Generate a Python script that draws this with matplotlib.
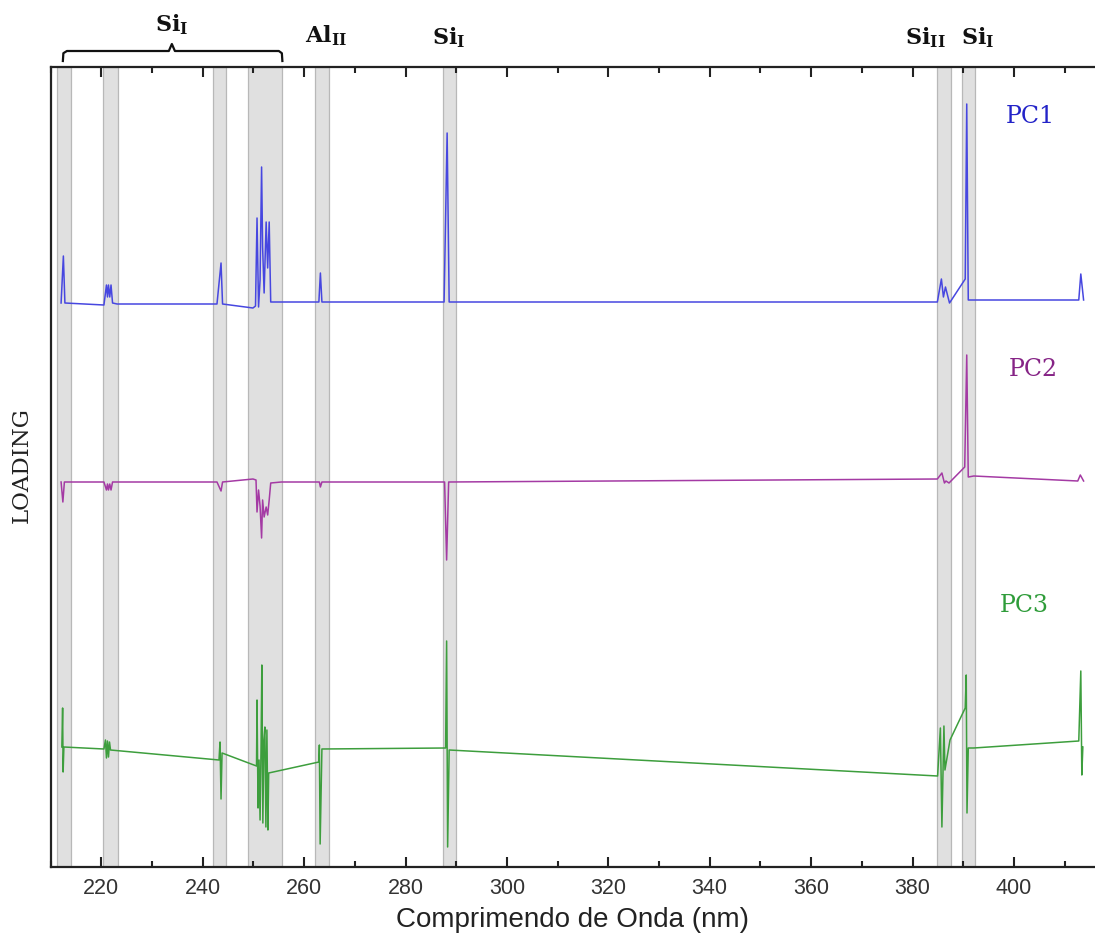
import matplotlib
matplotlib.use("Agg")
import matplotlib.pyplot as plt
from matplotlib.ticker import MultipleLocator
import numpy as np

# ---- data (wavelength in nm, loading in arbitrary units) ----
pc1_wl = [212.05, 212.5, 212.8, 220.5, 221.0, 221.2, 221.4, 221.65, 221.9, 222.2, 223.1,
          242.8, 243.6, 243.9, 249.9, 250.4, 250.7, 251.0, 251.3, 251.6, 251.8, 252.1,
          252.5, 252.8, 253.1, 253.4, 255.5, 262.9, 263.2, 263.5, 264.8, 287.6, 288.2,
          288.6, 289.9, 384.9, 385.7, 386.1, 386.5, 387.3, 390.4, 390.7, 391.0, 392.1,
          412.8, 413.2, 413.75]
pc1_val = [0.00, 0.47, 0.00, -0.02, 0.18, 0.06, 0.18, 0.06, 0.18, 0.00, -0.01,
           -0.01, 0.40, -0.01, -0.05, -0.03, 0.85, -0.04, 0.23, 1.36, 0.56, 0.10,
           0.81, 0.35, 0.81, 0.01, 0.01, 0.01, 0.30, 0.01, 0.01, 0.01, 1.70,
           0.01, 0.01, 0.01, 0.24, 0.06, 0.16, 0.00, 0.24, 1.99, 0.03, 0.03,
           0.03, 0.29, 0.03]

pc2_wl = [212.05, 212.4, 212.7, 220.5, 221.0, 221.2, 221.4, 221.65, 221.9, 222.2,
          242.8, 243.6, 243.9, 249.9, 250.5, 250.7, 251.0, 251.3, 251.6, 251.8, 252.1,
          252.5, 252.8, 253.1, 253.4, 255.5, 263.0, 263.2, 263.5, 287.7, 288.1, 288.5,
          384.9, 385.8, 386.3, 386.6, 387.2, 390.3, 390.7, 391.0, 392.1, 412.6, 413.1,
          413.75]
pc2_val = [0.00, -0.20, 0.00, 0.00, -0.08, -0.02, -0.08, -0.02, -0.08, 0.00,
           0.00, -0.09, 0.00, 0.03, 0.02, -0.30, -0.08, -0.24, -0.56, -0.18, -0.35,
           -0.25, -0.33, -0.18, -0.01, 0.00, 0.00, -0.05, 0.00, 0.00, -0.78, 0.00,
           0.03, 0.09, -0.01, 0.01, -0.01, 0.15, 1.27, 0.05, 0.06, 0.01, 0.07,
           0.01]

pc3_wl = [212.2, 212.35, 212.45, 212.6, 220.5, 220.8, 221.0, 221.2, 221.4, 221.6, 221.8,
          243.2, 243.4, 243.6, 243.8, 250.6, 250.7, 250.9, 251.1, 251.3, 251.5, 251.65,
          251.85, 252.05, 252.25, 252.45, 252.65, 252.85, 253.0, 262.9, 263.0, 263.15,
          263.5, 287.9, 288.1, 288.3, 288.6, 384.95, 385.5, 385.8, 386.2, 386.4, 387.4,
          390.4, 390.6, 390.75, 391.0, 392.05, 412.8, 413.2, 413.4, 413.6]
pc3_val = [0.03, 0.42, -0.22, 0.03, 0.01, 0.10, -0.08, 0.09, -0.07, 0.08, 0.00,
           -0.10, 0.08, -0.49, -0.03, -0.16, 0.50, -0.58, -0.10, -0.70, 0.05, 0.85,
           -0.73, 0.10, 0.23, -0.77, 0.20, -0.80, -0.23, -0.12, 0.05, -0.94,
           0.01, 0.02, 1.09, -0.97, 0.00, -0.26, 0.22, -0.77, 0.24, -0.20, 0.10,
           0.42, 0.75, -0.63, 0.02, 0.02, 0.09, 0.79, -0.25, 0.03]

bands = [(211.2, 214.0), (220.3, 223.2), (242.0, 244.6), (248.9, 255.7),
         (262.1, 264.9), (287.3, 289.9), (384.8, 387.6), (389.7, 392.4)]

series_names = ["PC1", "PC2", "PC3"]
offsets = [563.7, 384.7, 116.7]
scale = 100.0
line_colors = ["#4747e0", "#a43aa4", "#3d9e3d"]
text_colors = ["#2323c8", "#862486", "#2f9c3a"]

# ---- figure ----
plt.rcParams['mathtext.fontset'] = 'custom'
plt.rcParams['mathtext.rm'] = 'DejaVu Serif:bold'
plt.rcParams['mathtext.it'] = 'DejaVu Serif:bold'
plt.rcParams['mathtext.bf'] = 'DejaVu Serif:bold'

fig = plt.figure(figsize=(10.95, 9.49), dpi=100)
ax = fig.add_axes([50.7 / 1095, 1 - 866.7 / 949, 1 - 50.7 / 1095, 800 / 949])

for a, b in bands:
    ax.axvspan(a, b, facecolor="#e0e0e0", edgecolor="#b8b8b8", lw=0.9, zorder=0)

for wl, val, off, c in zip([pc1_wl, pc2_wl, pc3_wl], [pc1_val, pc2_val, pc3_val],
                           offsets, line_colors):
    ax.plot(wl, off + np.array(val) * scale, color=c, lw=1.1, zorder=3)

ax.set_xlim(210, 416)
ax.set_ylim(0, 800)
ax.xaxis.set_major_locator(MultipleLocator(20))
ax.xaxis.set_minor_locator(MultipleLocator(10))
ax.set_xticks(np.arange(220, 401, 20))
ax.tick_params(axis='x', which='both', direction='in', top=True, bottom=True,
               width=1.5, color='#222222')
ax.tick_params(axis='x', which='major', length=7, labelsize=15.5, pad=8)
ax.tick_params(axis='x', which='minor', length=4)
ax.set_yticks([])
for s in ['left', 'top', 'bottom']:
    ax.spines[s].set_linewidth(1.6)
    ax.spines[s].set_color('#222222')
ax.spines['right'].set_visible(False)
for lab in ax.get_xticklabels():
    lab.set_family('Liberation Sans')
    lab.set_color('#333333')

ax.set_xlabel("Comprimendo de Onda (nm)", family='Liberation Sans', fontsize=20,
              color='#222222', labelpad=6)
fig.text(22 / 1095, 1 - 465 / 949, "LOADING", rotation=90, family='DejaVu Serif',
         fontsize=16.5, ha='center', va='center', color='#222222')

# series labels
for name, (x, y), tc in zip(series_names, [(403.2, 750.0), (403.8, 496.7), (402.0, 261.7)],
                            text_colors):
    ax.text(x, y, name, color=tc, family='DejaVu Serif', fontsize=17,
            ha='center', va='center')

# element labels above the plot
elem = [(r'$\mathrm{Si}_{\mathrm{I}}$', 233.9, 842.0),
        (r'$\mathrm{Al}_{\mathrm{II}}$', 264.35, 831.0),
        (r'$\mathrm{Si}_{\mathrm{I}}$', 288.6, 829.0),
        (r'$\mathrm{Si}_{\mathrm{II}}$', 382.5, 829.0),
        (r'$\mathrm{Si}_{\mathrm{I}}$', 392.8, 829.0)]
for s, x, y in elem:
    ax.text(x, y, s, fontsize=16, ha='center', va='center', clip_on=False, color='#111111')

bx = [212.4, 212.5, 213.2, 233.3, 233.9, 234.5, 255.0, 255.6, 255.7]
by = [805.7, 813.5, 815.7, 815.7, 822.7, 815.7, 815.7, 813.5, 805.7]
ax.plot(bx, by, color='#111111', lw=1.6, clip_on=False, solid_joinstyle='round')

fig.savefig("out.png", dpi=100)
